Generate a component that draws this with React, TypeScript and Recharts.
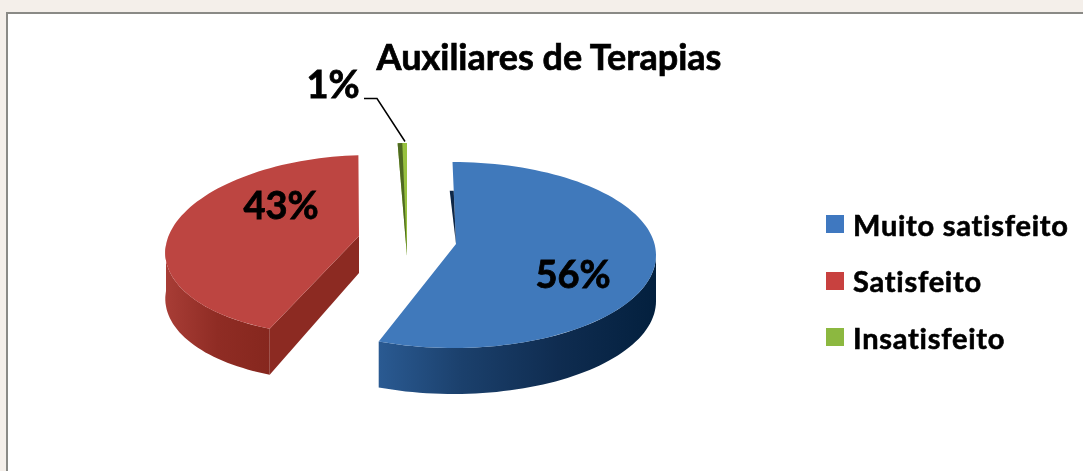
import { Legend, Pie, PieChart } from "recharts";

const categories = ["Muito satisfeito", "Satisfeito", "Insatisfeito"];
const shares = [56, 43, 1];
const faceColors = ["#4079bb", "#bd4541", "#97c13f"];
const legendColors = ["#3f78c0", "#c8413f", "#8cb840"];

const chartTitle = "Auxiliares de Terapias";

const rows = categories.map((name, i) => ({ name, value: shares[i], fill: legendColors[i] }));

// how each exploded wedge sits around the pie centre, all in px
const wedges = [
  { dx: 0, dy: 0, rx: 203, ry: 93, shear: 0.005, apexX: 3, apexY: -11, depth: 46, apexDepth: 0 },
  { dx: -99, dy: -10, rx: 188, ry: 90, shear: -0.18, apexX: 5, apexY: -9, depth: 46, apexDepth: 37 },
  { dx: -46, dy: -22, rx: 150, ry: 90, shear: 0, apexX: 0, apexY: 23, depth: 0, apexDepth: 0 },
];

const sideStops = [
  [["0%", "#2a5a92"], ["30%", "#1b406c"], ["65%", "#0f2c50"], ["100%", "#03203e"]],
  [["0%", "#a83d36"], ["50%", "#8f2c24"], ["100%", "#86271e"]],
  [["0%", "#4f6228"], ["100%", "#4f6228"]],
];

const labelOffsets = [
  { x: 120, y: 33 },
  { x: -172, y: -36 },
  { x: -120, y: -157 },
];

const RAD = Math.PI / 180;

function Wedge(props: any) {
  const { cx, cy, startAngle, endAngle, index } = props;
  const w = wedges[index];
  const ox = cx + w.dx;
  const oy = cy + w.dy;
  const rim = (deg: number, drop = 0) => {
    const y = -w.ry * Math.sin(deg * RAD);
    return [ox + w.rx * Math.cos(deg * RAD) + w.shear * y, oy + y + drop];
  };
  const sweep = (from: number, to: number, drop = 0) => {
    const pts = [];
    const n = Math.max(2, Math.ceil(Math.abs(to - from) / 2));
    for (let i = 0; i <= n; i++) pts.push(rim(from + ((to - from) * i) / n, drop));
    return pts;
  };
  const d = (pts: number[][]) => "M" + pts.map((p) => p[0].toFixed(1) + " " + p[1].toFixed(1)).join("L") + "Z";

  const apex = [ox + w.apexX, oy + w.apexY];
  const top = [apex, ...sweep(startAngle, endAngle)];

  // the front of the rim is the only part of the outer wall you can see
  const wallFrom = Math.min(startAngle, 0);
  const wallTo = Math.max(endAngle, -180);
  const wall =
    w.depth > 0 ? [...sweep(wallFrom, wallTo), ...sweep(wallTo, wallFrom, w.depth)] : null;

  const gradId = "side-" + index;
  const startPt = rim(startAngle);
  const midPt = rim((startAngle + endAngle) / 2);

  return (
    <g>
      <defs>
        <linearGradient id={gradId} x1="0" y1="0" x2="1" y2="0">
          {sideStops[index].map(([o, c]) => (
            <stop key={o} offset={o} stopColor={c} />
          ))}
        </linearGradient>
      </defs>
      {/* red wedge shows its cut face towards the viewer */}
      {index === 1 && (
        <path
          d={d([apex, startPt, [startPt[0], startPt[1] + w.depth], [apex[0], apex[1] + w.apexDepth]])}
          fill="#8c2a22"
        />
      )}
      {wall && <path d={d(wall)} fill={`url(#${gradId})`} />}
      <path d={d(top)} fill={faceColors[index]} />
      {index === 0 && (
        <path
          d={d([
            apex,
            [apex[0] + (startPt[0] - apex[0]) * 0.65, apex[1] + (startPt[1] - apex[1]) * 0.65],
            [apex[0] + (startPt[0] - apex[0]) * 0.65 - 4, apex[1] + (startPt[1] - apex[1]) * 0.65],
          ])}
          fill="#0e2747"
        />
      )}
      {index === 2 && <path d={d([apex, startPt, midPt])} fill="#4f6a22" />}
    </g>
  );
}

function PercentLabel(props: any) {
  const { cx, cy, index, value } = props;
  const o = labelOffsets[index];
  const x = cx + o.x;
  const y = cy + o.y;
  return (
    <g>
      {index === 2 && (
        <polyline
          points={`${x + 31},${y + 0.5} ${x + 44},${y + 0.5} ${x + 72},${y + 43.5}`}
          fill="none"
          stroke="#000"
          strokeWidth={1.5}
        />
      )}
      <text
        x={x}
        y={y}
        textAnchor="middle"
        fontFamily="Lato, sans-serif"
        fontWeight={700}
        fontSize={38}
        fill="#000"
        stroke="#000"
        strokeWidth={0.8}
      >
        {value}%
      </text>
    </g>
  );
}

function LegendList({ payload }: any) {
  return (
    <div>
      {(payload || []).map((p: any) => (
        <div key={p.value} style={{ display: "flex", alignItems: "center", height: 56.5 }}>
          <span style={{ width: 18, height: 18, background: p.color, marginRight: 9, flex: "none" }} />
          <span
            style={{
              fontFamily: "Lato, sans-serif",
              fontWeight: 700,
              fontSize: 29,
              letterSpacing: 0.75,
              fontVariantLigatures: "none",
              WebkitTextStroke: "0.6px #000",
              color: "#000",
              whiteSpace: "nowrap",
            }}
          >
            {p.value}
          </span>
        </div>
      ))}
    </div>
  );
}

export default function App() {
  return (
    <div
      style={{
        position: "absolute",
        left: 0,
        top: 0,
        width: 1083,
        height: 471,
        overflow: "hidden",
        background: "#f4efea",
      }}
    >
      <div
        style={{
          position: "absolute",
          left: 6,
          top: 12,
          width: 1100,
          height: 480,
          background: "#fff",
          borderLeft: "2px solid #8a8a86",
          borderTop: "2px solid #8a8a86",
        }}
      />
      <div style={{ position: "absolute", left: 0, top: 0, filter: "blur(0.6px)" }}>
        <PieChart width={1083} height={471} margin={{ top: 0, right: 0, bottom: 0, left: 0 }}>
          <text
            x={549}
            y={70}
            textAnchor="middle"
            fontFamily="Lato, sans-serif"
            fontWeight={700}
            fontSize={36}
            fill="#000"
            stroke="#000"
            strokeWidth={0.7}
          >
            {chartTitle}
          </text>
          <Pie
            data={rows}
            dataKey="value"
            nameKey="name"
            cx={453}
            cy={255}
            outerRadius={203}
            startAngle={90}
            endAngle={-270}
            stroke="none"
            shape={Wedge}
            label={PercentLabel}
            labelLine={false}
            isAnimationActive={false}
          />
          <Legend
            layout="vertical"
            align="right"
            verticalAlign="top"
            itemSorter={null}
            content={LegendList}
            wrapperStyle={{ left: 826, top: 196, width: 257 }}
          />
        </PieChart>
      </div>
    </div>
  );
}
